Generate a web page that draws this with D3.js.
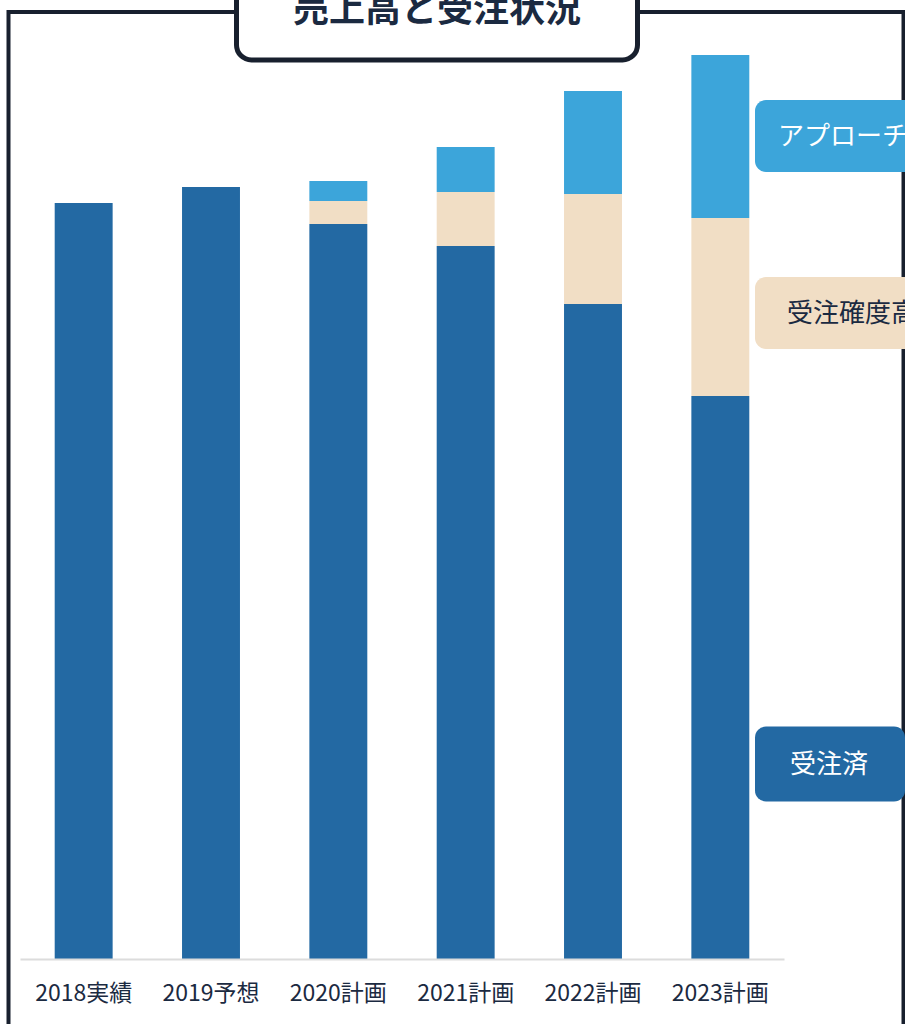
<!DOCTYPE html>
<html><head><meta charset="utf-8">
<script src="https://cdn.jsdelivr.net/npm/d3@7"></script>
<style>
html,body{margin:0;padding:0;background:#fff;overflow:hidden;}
svg{display:block;font-family:"Noto Sans CJK JP","Noto Sans",sans-serif;}
</style></head>
<body>
<script>
const categories = ["2018実績","2019予想","2020計画","2021計画","2022計画","2023計画"];
const received = [75.6, 77.2, 73.5, 71.3, 65.5, 56.3];   // 受注済
const highProb = [0, 0, 2.3, 5.4, 11.0, 17.8];           // 受注確度高
const approach = [0, 0, 2.0, 4.5, 10.3, 16.3];           // アプローチ中
const seriesNames = ["受注済","受注確度高","アプローチ中"];
const title = "売上高と受注状況";

const W = 905, H = 1024;
const colors = {"受注済":"#2369a3","受注確度高":"#f1dec5","アプローチ中":"#3ca5da"};
const textColors = {"受注済":"#ffffff","受注確度高":"#1b2a41","アプローチ中":"#ffffff"};
const ink = "#18202e";

const svg = d3.select("body").append("svg").attr("width", W).attr("height", H);

// outer frame
svg.append("rect").attr("x", 8.5).attr("y", 12).attr("width", 895).attr("height", 1040)
  .attr("fill", "#fff").attr("stroke", ink).attr("stroke-width", 4);

const table = categories.map((c, i) => ({cat: c, "受注済": received[i], "受注確度高": highProb[i], "アプローチ中": approach[i]}));
const stacked = d3.stack().keys(seriesNames)(table);

const x = d3.scaleBand().domain(categories).range([20, 784]).paddingInner(0.545).paddingOuter(0.2725);
const maxTotal = d3.max(table, d => d["受注済"] + d["受注確度高"] + d["アプローチ中"]);
const y = d3.scaleLinear().domain([0, maxTotal]).range([959, 55]);

svg.append("g").selectAll("g").data(stacked).join("g")
  .attr("fill", d => colors[d.key])
  .selectAll("rect").data(d => d).join("rect")
  .attr("x", d => x(d.data.cat))
  .attr("width", x.bandwidth())
  .attr("y", d => y(d[1]))
  .attr("height", d => y(d[0]) - y(d[1]));

// x axis
const ax = svg.append("g").attr("transform", "translate(0,959)")
  .call(d3.axisBottom(x).tickSize(0).tickPadding(0));
ax.select(".domain").attr("stroke", "#dcdcdc").attr("stroke-width", 2);
ax.selectAll("text").attr("font-size", 23).attr("fill", "#1b2a41")
  .attr("font-family", "'Noto Sans CJK JP',sans-serif").attr("dy", 42);

// legend labels at right
const legendY = {"アプローチ中": 136, "受注確度高": 313, "受注済": 764};
const lg = svg.append("g");
seriesNames.forEach(k => {
  const g = lg.append("g").attr("transform", `translate(755,${legendY[k]})`);
  const boxH = k === "受注済" ? 75 : 72;
  g.append("rect").attr("x", 0).attr("y", -boxH/2).attr("width", k === "受注済" ? 150 : 220).attr("height", boxH)
    .attr("rx", 11).attr("fill", colors[k]);
  const tx = k === "アプローチ中" ? 23 : (k === "受注確度高" ? 32 : 35);
  g.append("text").attr("x", tx).attr("y", 0).attr("dy", "0.36em")
    .attr("font-size", 26).attr("fill", textColors[k]).text(k);
});

// title box
svg.append("rect").attr("x", 236.5).attr("y", -30).attr("width", 401).attr("height", 90)
  .attr("rx", 15).attr("fill", "#fff").attr("stroke", ink).attr("stroke-width", 5);
svg.append("text").attr("x", 437).attr("y", 22).attr("text-anchor", "middle")
  .attr("font-size", 36).attr("font-weight", "bold").attr("fill", "#1b2a41").text(title);
</script>
</body></html>
